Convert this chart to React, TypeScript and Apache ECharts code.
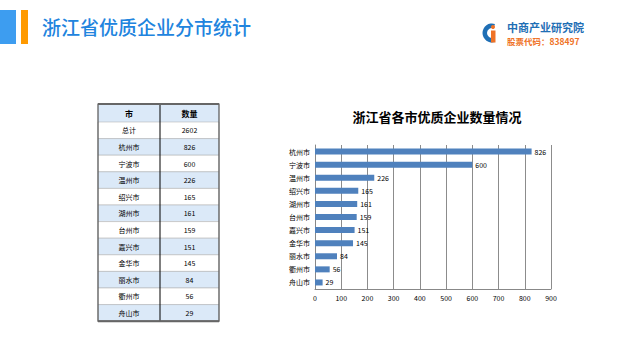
import React, { useEffect, useRef } from "react";
import * as echarts from "echarts";

const cities = ["杭州市", "宁波市", "温州市", "绍兴市", "湖州市", "台州市", "嘉兴市", "金华市", "丽水市", "衢州市", "舟山市"];
const counts = [826, 600, 226, 165, 161, 159, 151, 145, 84, 56, 29];
const totalLabel = "总计";
const totalValue = 2602;
const tableHeaders = ["市", "数量"];
const xTicks = [0, 900, 100];

const FONT = "'Noto Sans CJK SC', sans-serif";

export default function App() {
  const ref = useRef<HTMLDivElement>(null);
  useEffect(() => {
    const chart = echarts.init(ref.current!, null, { renderer: "svg" });

    const tableRows: [string, string][] = [[totalLabel, String(totalValue)], ...cities.map((c, i) => [c, String(counts[i])] as [string, string])];
    const tx = 98, ty = 104, tw = 121, c1 = 62, hh = 18, rh = 16.6;
    const tableEls: any[] = [];
    tableEls.push({ type: "rect", shape: { x: tx, y: ty, width: tw, height: hh }, style: { fill: "#dbe9f8" } });
    tableEls.push({ type: "text", x: tx + c1 / 2, y: ty + hh / 2, style: { text: tableHeaders[0], font: `bold 8px ${FONT}`, fill: "#000", align: "center", verticalAlign: "middle" } });
    tableEls.push({ type: "text", x: tx + c1 + (tw - c1) / 2, y: ty + hh / 2, style: { text: tableHeaders[1], font: `bold 8px ${FONT}`, fill: "#000", align: "center", verticalAlign: "middle" } });
    tableRows.forEach((r, i) => {
      const y = ty + hh + i * rh;
      tableEls.push({ type: "rect", shape: { x: tx, y, width: tw, height: rh }, style: { fill: i % 2 === 1 ? "#dbe9f8" : "#ffffff", stroke: "#a8a8a8", lineWidth: 0.5 } });
      tableEls.push({ type: "text", x: tx + c1 / 2, y: y + rh / 2, style: { text: r[0], font: `7px ${FONT}`, fill: "#000", align: "center", verticalAlign: "middle" } });
      tableEls.push({ type: "text", x: tx + c1 + (tw - c1) / 2, y: y + rh / 2, style: { text: r[1], font: `7px ${FONT}`, fill: "#000", align: "center", verticalAlign: "middle" } });
    });
    const th = hh + tableRows.length * rh;
    tableEls.push({ type: "line", shape: { x1: tx + c1, y1: ty, x2: tx + c1, y2: ty + th }, style: { stroke: "#000", lineWidth: 1 } });
    tableEls.push({ type: "rect", shape: { x: tx, y: ty, width: tw, height: th }, style: { fill: "none", stroke: "#555", lineWidth: 1.2 } });
    tableEls.push({ type: "line", shape: { x1: tx, y1: ty, x2: tx + tw, y2: ty }, style: { stroke: "#666", lineWidth: 2 } });
    tableEls.push({ type: "line", shape: { x1: tx, y1: ty + th, x2: tx + tw, y2: ty + th }, style: { stroke: "#666", lineWidth: 2 } });

    chart.setOption({
      animation: false,
      backgroundColor: "#ffffff",
      title: {
        text: "浙江省各市优质企业数量情况",
        left: 432,
        top: 105,
        textAlign: "center",
        textStyle: { fontFamily: FONT, fontSize: 13, fontWeight: "bold", color: "#000" },
      },
      grid: { left: 315, right: 76, top: 145, bottom: 71 },
      xAxis: {
        type: "value",
        min: xTicks[0],
        max: xTicks[1],
        interval: xTicks[2],
        axisLine: { show: true, lineStyle: { color: "#888" } },
        axisTick: { show: false },
        axisLabel: { fontSize: 7, color: "#000", fontFamily: FONT, margin: 5 },
        splitLine: { show: true, lineStyle: { color: "#8c8c8c", width: 1 } },
      },
      yAxis: {
        type: "category",
        inverse: true,
        data: cities,
        axisLine: { show: true, lineStyle: { color: "#888" } },
        axisTick: { show: false },
        axisLabel: { fontSize: 7, color: "#000", fontFamily: FONT, margin: 5 },
      },
      series: [
        {
          type: "bar",
          data: counts,
          barWidth: 6,
          itemStyle: { color: "#4f81bd" },
          label: { show: true, position: "right", fontSize: 7, color: "#000", fontFamily: FONT, distance: 3 },
        },
      ],
      graphic: [
        { type: "rect", shape: { x: 0, y: 10, width: 16, height: 34 }, style: { fill: "#3d9df0" } },
        { type: "rect", shape: { x: 21, y: 10, width: 7, height: 34 }, style: { fill: "#ff9a00" } },
        { type: "text", x: 42, y: 26, style: { text: "浙江省优质企业分市统计", font: `500 19px ${FONT}`, fill: "#2184de", verticalAlign: "middle" } },
        { type: "sector", shape: { cx: 492, cy: 33, r: 9.5, r0: 5, startAngle: Math.PI * 0.4, endAngle: Math.PI * 1.6 }, style: { fill: "#1f6fb5" } },
        { type: "circle", shape: { cx: 493, cy: 27, r: 2 }, style: { fill: "#ef7226" } },
        { type: "rect", shape: { x: 491, y: 30.5, width: 4.5, height: 12 }, style: { fill: "#ef7226" } },
        { type: "text", x: 507, y: 26.5, style: { text: "中商产业研究院", font: `bold 11px ${FONT}`, fill: "#1f6fb5", verticalAlign: "middle" } },
        { type: "text", x: 507, y: 40.5, style: { text: "股票代码：838497", font: `bold 8.5px ${FONT}`, fill: "#ef7226", verticalAlign: "middle" } },
        ...tableEls,
      ],
    });
    return () => chart.dispose();
  }, []);
  return <div ref={ref} style={{ width: 627, height: 360, position: "absolute", left: 0, top: 0 }} />;
}
